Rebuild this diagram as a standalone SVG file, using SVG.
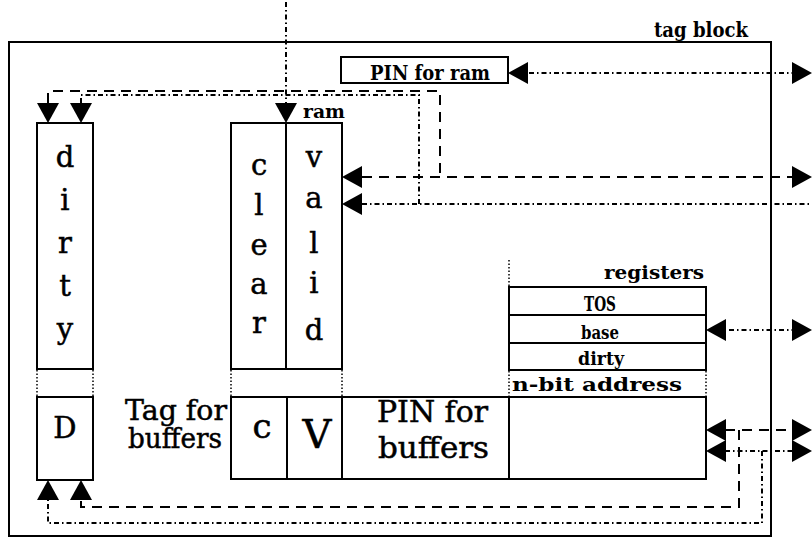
<svg xmlns="http://www.w3.org/2000/svg" width="812" height="539" viewBox="0 0 812 539">
<style>
.box{fill:none;stroke:#000;stroke-width:2}
.dot{fill:none;stroke:#000;stroke-width:1.5;stroke-dasharray:1.5 2}
.dash{fill:none;stroke:#000;stroke-width:2;stroke-dasharray:10 7}
.dd{fill:none;stroke:#000;stroke-width:2;stroke-dasharray:5 3 1.5 3}
.big{font-family:"DejaVu Serif","Liberation Serif",serif;fill:#000;stroke:#000;stroke-width:0.5}
.sm{font-family:"DejaVu Serif","Liberation Serif",serif;font-weight:bold;fill:#000}
</style>
<defs>
<path id="ah" d="M0,0 L-20,-11 L-20,11 Z" fill="#000"/>
</defs>
<rect width="812" height="539" fill="#fff"/>
<g id="tagblock">
<rect class="box" x="9" y="42" width="762" height="494"/>
<text class="sm" x="654" y="37" font-size="20" textLength="94" lengthAdjust="spacingAndGlyphs">tag block</text>
</g>
<g id="pinram">
<rect class="box" x="341" y="57" width="167" height="26"/>
<text class="sm" x="370" y="80" font-size="20" textLength="120" lengthAdjust="spacingAndGlyphs">PIN for ram</text>
</g>
<g id="dirty">
<rect class="box" x="37" y="123" width="56" height="246"/>
<g class="big" font-size="29" text-anchor="middle">
<text x="65" y="167">d</text><text x="65" y="210">i</text><text x="65" y="253">r</text><text x="65" y="296">t</text><text x="65" y="339">y</text>
</g>
<path class="dot" d="M37,370 V396 M93,370 V396"/>
</g>
<g id="clearvalid">
<rect class="box" x="231" y="123" width="111" height="246"/>
<line class="box" x1="286" y1="123" x2="286" y2="369"/>
<g class="big" font-size="29" text-anchor="middle">
<text x="259" y="175">c</text><text x="259" y="215">l</text><text x="259" y="255">e</text><text x="259" y="294">a</text><text x="259" y="333">r</text>
<text x="314" y="167">v</text><text x="314" y="208">a</text><text x="314" y="253">l</text><text x="314" y="293">i</text><text x="314" y="340">d</text>
</g>
<text class="sm" x="303" y="118" font-size="18" textLength="42" lengthAdjust="spacingAndGlyphs">ram</text>
<path class="dot" d="M231,370 V396 M342,370 V396"/>
</g>
<g id="dbox">
<rect class="box" x="37" y="397" width="56" height="83"/>
<text class="big" x="65" y="438" font-size="29" text-anchor="middle">D</text>
</g>
<g id="tagbuffers">
<text class="big" x="125" y="420" font-size="27" textLength="102" lengthAdjust="spacingAndGlyphs">Tag for</text>
<text class="big" x="128" y="448" font-size="27" textLength="94" lengthAdjust="spacingAndGlyphs">buffers</text>
<rect class="box" x="231" y="397" width="475" height="82"/>
<path class="box" d="M287,397 V479 M342,397 V479 M509,397 V479"/>
<text class="big" x="262" y="438" font-size="34" text-anchor="middle">c</text>
<text class="big" x="317" y="448" font-size="40" text-anchor="middle">V</text>
<text class="big" x="377" y="422" font-size="29" textLength="111" lengthAdjust="spacingAndGlyphs">PIN for</text>
<text class="big" x="378" y="458" font-size="29" textLength="111" lengthAdjust="spacingAndGlyphs">buffers</text>
</g>
<g id="registers">
<path class="dot" d="M509,260 V286"/>
<text class="sm" x="704" y="279" font-size="19" text-anchor="end" textLength="100" lengthAdjust="spacingAndGlyphs">registers</text>
<rect class="box" x="509" y="287" width="197" height="83"/>
<path class="box" d="M509,315 H706 M509,343 H706"/>
<text class="sm" x="584" y="311" font-size="20" textLength="32" lengthAdjust="spacingAndGlyphs">TOS</text>
<text class="sm" x="581" y="339" font-size="19" textLength="38" lengthAdjust="spacingAndGlyphs">base</text>
<text class="sm" x="578" y="365" font-size="19" textLength="46" lengthAdjust="spacingAndGlyphs">dirty</text>
<path class="dot" d="M509,371 V396 M706,371 V396"/>
<text class="sm" x="512" y="391" font-size="18" textLength="170" lengthAdjust="spacingAndGlyphs">n-bit address</text>
</g>
<g id="connectors">
<path class="dd" d="M529,73 H793"/>
<use href="#ah" transform="translate(508,73) rotate(180)"/>
<use href="#ah" transform="translate(812,73)"/>
<path class="dd" d="M286,2 V103"/>
<use href="#ah" transform="translate(286,123) rotate(90)"/>
<path class="dash" d="M48,103 V91 H440 V177"/>
<path class="dash" d="M362,177 H793"/>
<use href="#ah" transform="translate(48,123) rotate(90)"/>
<use href="#ah" transform="translate(342,177) rotate(180)"/>
<use href="#ah" transform="translate(812,177)"/>
<path class="dd" d="M81,103 V95 H419 V204"/>
<path class="dd" d="M362,204 H812"/>
<use href="#ah" transform="translate(81,123) rotate(90)"/>
<use href="#ah" transform="translate(342,204) rotate(180)"/>
<path class="dd" d="M729,330 H793"/>
<use href="#ah" transform="translate(706,330) rotate(180)"/>
<use href="#ah" transform="translate(812,330)"/>
<path class="dash" d="M725,430 H793 M739,430 V507 H81 V500"/>
<use href="#ah" transform="translate(706,430) rotate(180)"/>
<use href="#ah" transform="translate(812,430)"/>
<use href="#ah" transform="translate(81,480) rotate(-90)"/>
<path class="dd" d="M725,451 H793 M762,451 V523 H48 V500"/>
<use href="#ah" transform="translate(706,451) rotate(180)"/>
<use href="#ah" transform="translate(812,451)"/>
<use href="#ah" transform="translate(48,480) rotate(-90)"/>
</g>
</svg>
